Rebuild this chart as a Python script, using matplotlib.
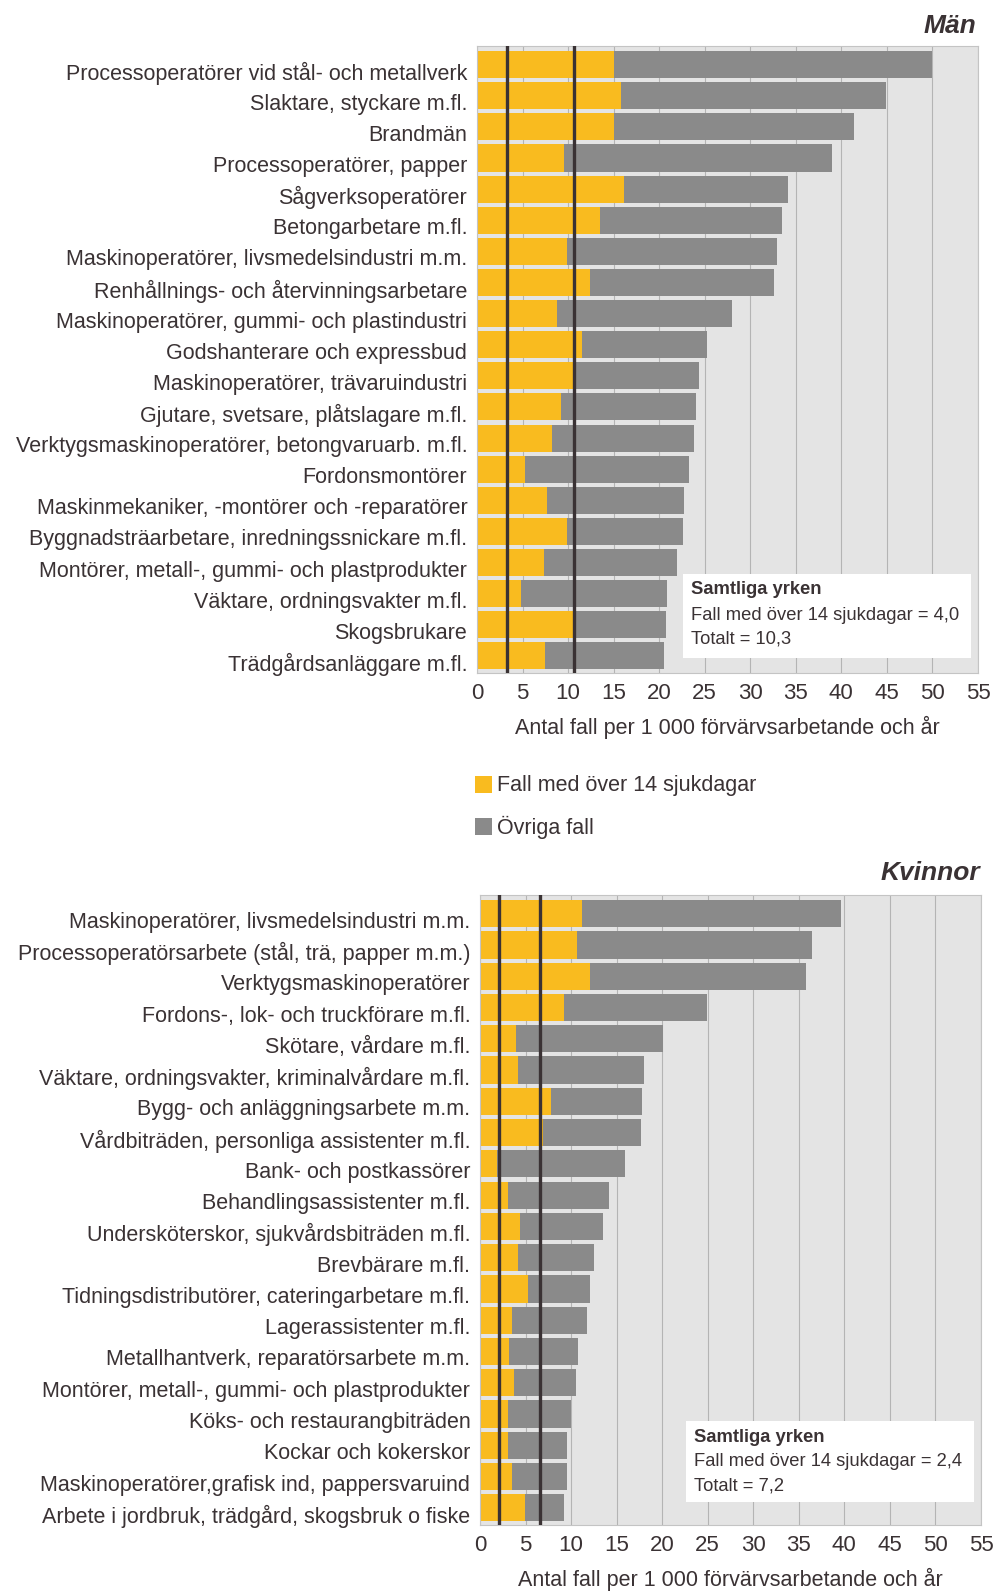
import matplotlib
matplotlib.use("Agg")
import matplotlib.pyplot as plt
from matplotlib.transforms import ScaledTranslation
from matplotlib.patches import Rectangle

plt.rcParams['font.family'] = ['Liberation Sans', 'DejaVu Sans']

# --- data -------------------------------------------------------------
men_jobs = [
    "Processoperatörer vid stål- och metallverk",
    "Slaktare, styckare m.fl.",
    "Brandmän",
    "Processoperatörer, papper",
    "Sågverksoperatörer",
    "Betongarbetare m.fl.",
    "Maskinoperatörer, livsmedelsindustri m.m.",
    "Renhållnings- och återvinningsarbetare",
    "Maskinoperatörer, gummi- och plastindustri",
    "Godshanterare och expressbud",
    "Maskinoperatörer, trävaruindustri",
    "Gjutare, svetsare, plåtslagare m.fl.",
    "Verktygsmaskinoperatörer, betongvaruarb. m.fl.",
    "Fordonsmontörer",
    "Maskinmekaniker, -montörer och -reparatörer",
    "Byggnadsträarbetare, inredningssnickare m.fl.",
    "Montörer, metall-, gummi- och plastprodukter",
    "Väktare, ordningsvakter m.fl.",
    "Skogsbrukare",
    "Trädgårdsanläggare m.fl.",
]
men_long = [15.0, 15.8, 15.0, 9.6, 16.1, 13.5, 9.9, 12.4, 8.8, 11.5,
            10.5, 9.2, 8.2, 5.3, 7.7, 9.9, 7.4, 4.8, 10.5, 7.5]
men_total = [49.9, 44.9, 41.4, 39.0, 34.1, 33.5, 32.9, 32.6, 28.0, 25.2,
             24.4, 24.0, 23.8, 23.3, 22.7, 22.6, 22.0, 20.9, 20.8, 20.5]
men_ref = [3.3, 10.7]   # drawn marker lines (all occupations)
men_note = ["Samtliga yrken", "Fall med över 14 sjukdagar = 4,0", "Totalt = 10,3"]

women_jobs = [
    "Maskinoperatörer, livsmedelsindustri m.m.",
    "Processoperatörsarbete (stål, trä, papper m.m.)",
    "Verktygsmaskinoperatörer",
    "Fordons-, lok- och truckförare m.fl.",
    "Skötare, vårdare m.fl.",
    "Väktare, ordningsvakter, kriminalvårdare m.fl.",
    "Bygg- och anläggningsarbete m.m.",
    "Vårdbiträden, personliga assistenter m.fl.",
    "Bank- och postkassörer",
    "Behandlingsassistenter m.fl.",
    "Undersköterskor, sjukvårdsbiträden m.fl.",
    "Brevbärare m.fl.",
    "Tidningsdistributörer, cateringarbetare m.fl.",
    "Lagerassistenter m.fl.",
    "Metallhantverk, reparatörsarbete m.m.",
    "Montörer, metall-, gummi- och plastprodukter",
    "Köks- och restaurangbiträden",
    "Kockar och kokerskor",
    "Maskinoperatörer,grafisk ind, pappersvaruind",
    "Arbete i jordbruk, trädgård, skogsbruk o fiske",
]
women_long = [11.2, 10.6, 12.1, 9.2, 4.0, 4.2, 7.8, 6.9, 1.9, 3.1,
              4.4, 4.2, 5.3, 3.5, 3.2, 3.7, 3.1, 3.1, 3.5, 4.9]
women_total = [39.6, 36.5, 35.8, 24.9, 20.1, 18.0, 17.8, 17.7, 15.9, 14.2,
               13.5, 12.5, 12.1, 11.8, 10.8, 10.5, 10.0, 9.5, 9.5, 9.2]
women_ref = [2.1, 6.6]
women_note = ["Samtliga yrken", "Fall med över 14 sjukdagar = 2,4", "Totalt = 7,2"]

x_ticks = list(range(0, 60, 5))
x_label = "Antal fall per 1 000 förvärvsarbetande och år"
legend_labels = ["Fall med över 14 sjukdagar", "Övriga fall"]

# --- style ------------------------------------------------------------
YELLOW = "#f9bb1f"
GREY = "#8a8a8a"
BG = "#e4e4e4"
INK = "#3a3234"
W, H = 997, 1593

fig = plt.figure(figsize=(W / 100, H / 100), dpi=100)
fig.patch.set_facecolor("white")


def px_axes(left, top, right, bottom):
    return fig.add_axes([left / W, 1 - bottom / H, (right - left) / W, (bottom - top) / H])


def draw_panel(ax, jobs, long_cases, totals, refs, note, note_box, title, title_xy):
    n = len(jobs)
    ypos = list(range(n))
    other = [t - l for t, l in zip(totals, long_cases)]
    ax.set_facecolor(BG)
    ax.barh(ypos, long_cases, height=0.87, color=YELLOW, zorder=2)
    ax.barh(ypos, other, left=long_cases, height=0.87, color=GREY, zorder=2)
    for r in refs:
        ax.axvline(r, color=INK, lw=2.4, zorder=3)
    ax.set_xlim(0, 55)
    ax.set_ylim(n - 0.45, -0.6)
    ax.set_xticks(x_ticks)
    ax.xaxis.grid(True, color="#b4b4b4", lw=0.8, zorder=0)
    ax.set_axisbelow(True)
    ax.tick_params(axis="x", length=0, labelsize=16, pad=7, colors=INK)
    ax.set_yticks(ypos)
    ax.set_yticklabels(jobs, fontsize=15.5, color=INK)
    ax.tick_params(axis="y", length=0, pad=7)
    shift = ScaledTranslation(0, -0.06, fig.dpi_scale_trans)
    for lab in ax.get_yticklabels():
        lab.set_transform(lab.get_transform() + shift)
    for s in ax.spines.values():
        s.set_color("#c4c4c4")
        s.set_linewidth(0.8)
    ax.set_xlabel(x_label, fontsize=15.5, color=INK, labelpad=9)

    # note box
    bl, bt, br, bb = note_box
    fig.patches.append(Rectangle((bl / W, 1 - bb / H), (br - bl) / W, (bb - bt) / H,
                                 transform=fig.transFigure, facecolor="white",
                                 edgecolor="none", zorder=4))
    fig.text((bl + 8) / W, 1 - (bt + 16) / H, note[0], fontsize=13.2,
             fontweight="bold", color=INK, va="center", zorder=5)
    fig.text((bl + 8) / W, 1 - (bt + 41) / H, note[1], fontsize=13.2,
             color=INK, va="center", zorder=5)
    fig.text((bl + 8) / W, 1 - (bt + 65) / H, note[2], fontsize=13.2,
             color=INK, va="center", zorder=5)

    fig.text(title_xy[0] / W, 1 - title_xy[1] / H, title, fontsize=19,
             fontweight="bold", fontstyle="italic", color=INK,
             ha="right", va="center")


ax_m = px_axes(477, 46, 978, 673)
draw_panel(ax_m, men_jobs, men_long, men_total, men_ref, men_note,
           (683, 574, 971, 658), "Män", (976, 26))

ax_w = px_axes(480, 895, 981, 1525)
draw_panel(ax_w, women_jobs, women_long, women_total, women_ref, women_note,
           (686, 1421, 974, 1502), "Kvinnor", (980, 873))

# legend between panels
for i, (lab, col) in enumerate(zip(legend_labels, [YELLOW, GREY])):
    yc = 785 + i * 42
    fig.patches.append(Rectangle((475 / W, 1 - (yc + 8) / H), 17 / W, 17 / H,
                                 transform=fig.transFigure, facecolor=col,
                                 edgecolor="none"))
    fig.text(497 / W, 1 - yc / H, lab, fontsize=15.5, color=INK, va="center")

fig.savefig("out.png", dpi=100, facecolor="white")
